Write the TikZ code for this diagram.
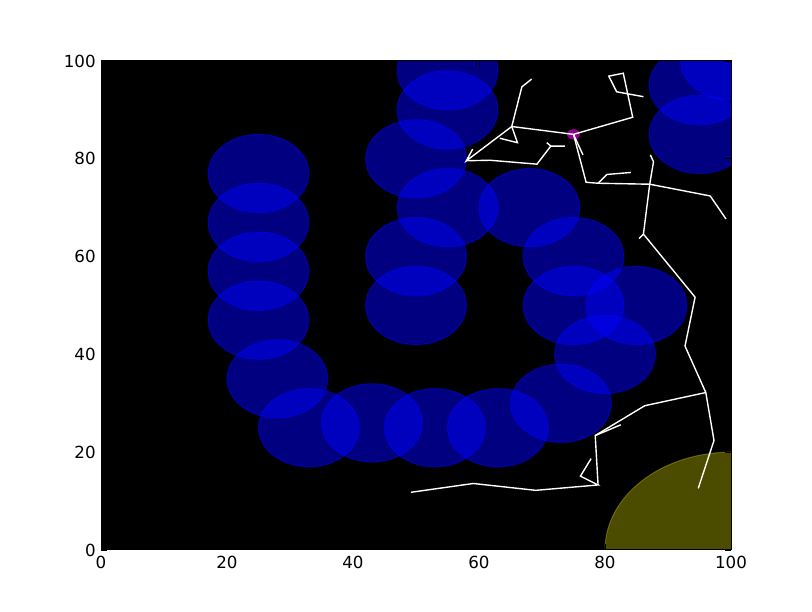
\documentclass[tikz,border=0pt]{standalone}
\usepackage{fontspec}
\setmainfont{DejaVu Sans}
\definecolor{mplyellow}{rgb}{0.75,0.75,0}
\definecolor{mplmagenta}{rgb}{0.75,0,0.75}
\begin{document}
\begin{tikzpicture}[x=4.536pt,y=3.5208pt,
  bluedisc/.style={fill=blue,draw=blue,opacity=0.5,line width=0.72pt},
  yellowdisc/.style={fill=mplyellow,draw=mplyellow,opacity=0.4,line width=0.72pt},
  goaldisc/.style={fill=mplmagenta,draw=mplmagenta,opacity=0.75,line width=0.3pt},
  tree/.style={draw=white,line width=1pt},
  tickmark/.style={draw=black,line width=0.5pt},
  ticklabel/.style={font=\fontsize{12}{14}\selectfont,inner sep=0pt}]
\useasboundingbox (-16.032,-12.679) rectangle (112.857,112.474);
\fill[white] (-16.032,-12.679) rectangle (112.857,112.474);
\fill[black] (0,0) rectangle (100,100);
\begin{scope}
\clip (0,0) rectangle (100,100);
\foreach \cx/\cy in {25/77,25/67,25/57,25/47,28/35,33/25,43/26,53/25,63/25,73/30,80/40,75/50,85/50,75/60,68/70,55/70,50/60,50/50,50/80,55/90,55/98,95/85,95/95,100/100}
  \path[bluedisc] (\cx,\cy) ellipse [x radius=36.288pt, y radius=28.166pt];
\path[yellowdisc] (100,0) ellipse [x radius=90.72pt, y radius=70.416pt];
\path[goaldisc] (75,85) ellipse [x radius=4.536pt, y radius=3.5208pt];
% tree
\coordinate (a1) at (49.2,11.8);
\coordinate (a2) at (59.1,13.6);
\coordinate (a3) at (69.0,12.2);
\coordinate (a4) at (78.9,13.3);
\coordinate (a5) at (76.1,15.1);
\coordinate (a6) at (77.8,18.7);
\coordinate (a7) at (78.45,23.4);
\coordinate (a8) at (82.5,25.6);
\coordinate (a9) at (86.3,29.5);
\coordinate (a10) at (96.0,32.2);
\coordinate (a11) at (97.3,22.4);
\coordinate (a12) at (94.8,12.6);
\coordinate (a13) at (92.7,41.7);
\coordinate (a14) at (94.3,51.7);
\coordinate (a15) at (86.1,64.6);
\coordinate (a16) at (85.4,63.7);
\coordinate (a17) at (87.7,79.4);
\coordinate (a18) at (87.2,80.8);
\coordinate (b1) at (77.0,75.2);
\coordinate (b2) at (78.9,75.0);
\coordinate (b3) at (80.3,76.8);
\coordinate (b4) at (84.1,77.2);
\coordinate (b5) at (87.1,74.8);
\coordinate (b6) at (96.7,72.4);
\coordinate (b7) at (99.2,67.7);
\coordinate (M) at (75,85);
\coordinate (m1) at (76.5,80.8);
\coordinate (c1) at (84.4,88.5);
\coordinate (c2) at (82.9,97.5);
\coordinate (c3) at (80.6,96.9);
\coordinate (c4) at (81.85,93.7);
\coordinate (c5) at (86.1,92.7);
\coordinate (P2) at (65.2,86.6);
\coordinate (P1) at (58.0,79.6);
\coordinate (p0) at (59.0,82.0);
\coordinate (d1) at (66.8,94.7);
\coordinate (d2) at (68.35,96.3);
\coordinate (d3) at (66.1,83.3);
\coordinate (d4) at (63.3,84.2);
\coordinate (e1) at (61.75,79.7);
\coordinate (e2) at (69.2,78.9);
\coordinate (e3) at (71.4,82.6);
\coordinate (e4) at (73.65,82.6);
\coordinate (e5) at (70.75,83.3);
\draw[tree] (a1) -- (a2) -- (a3) -- (a4) -- (a5) -- (a6);
\draw[tree] (a4) -- (a7) -- (a8);
\draw[tree] (a7) -- (a9) -- (a10) -- (a11) -- (a12);
\draw[tree] (a10) -- (a13) -- (a14) -- (a15) -- (a16);
\draw[tree] (a15) -- (b5) -- (a17) -- (a18);
\draw[tree] (M) -- (b1) -- (b2) -- (b5) -- (b6) -- (b7);
\draw[tree] (b2) -- (b3) -- (b4);
\draw[tree] (M) -- (m1);
\draw[tree] (M) -- (c1) -- (c2) -- (c3) -- (c4) -- (c5);
\draw[tree] (M) -- (P2) -- (P1) -- (p0);
\draw[tree] (P2) -- (d1) -- (d2);
\draw[tree] (P2) -- (d3) -- (d4);
\draw[tree] (P1) -- (e1) -- (e2) -- (e3) -- (e4);
\draw[tree] (e3) -- (e5);
\end{scope}
% frame and ticks
\draw[black,line width=0.72pt] (0,0) rectangle (100,100);
\foreach \t in {0,20,40,60,80,100} {
  \draw[tickmark] (\t,0) -- ++(0,4pt);
  \draw[tickmark] (\t,100) -- ++(0,-4pt);
  \draw[tickmark] (0,\t) -- ++(4pt,0);
  \draw[tickmark] (100,\t) -- ++(-4pt,0);
  \node[ticklabel,anchor=north] (xl\t) at (\t,-1.23) {\t};
  \node[ticklabel,anchor=east] (yl\t) at (-0.8,\t) {\t};
}
\end{tikzpicture}
\end{document}
